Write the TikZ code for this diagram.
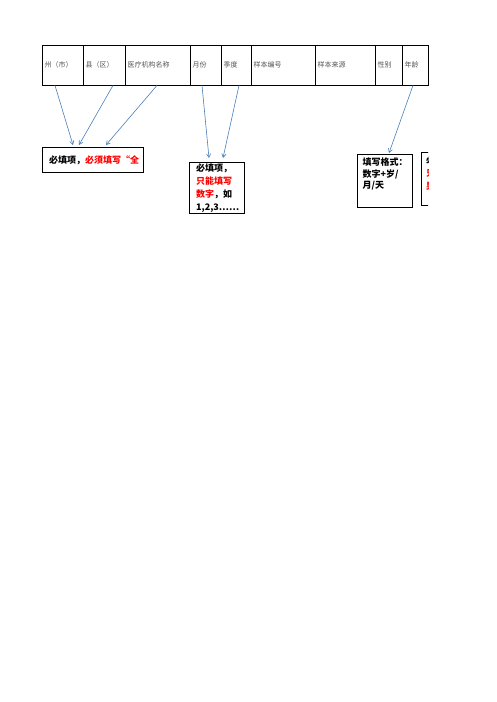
\documentclass[tikz,border=0pt]{standalone}
\usepackage{fontspec}
\newfontfamily\cjk{Noto Sans CJK SC}
\usetikzlibrary{arrows, positioning}
\definecolor{pointerblue}{RGB}{74,126,187}
\definecolor{headgray}{RGB}{85,85,85}

\begin{document}
\begin{tikzpicture}[
        x=1pt, y=-1pt,
        >=angle 60,
        cell/.style={rectangle, draw, line width=0.8pt, minimum height=40pt, inner sep=0pt, anchor=west},
        celltext/.style={anchor=west, inner sep=0pt, font=\cjk\fontsize{7}{8}\selectfont, text=headgray},
        tipbox/.style={rectangle, draw, line width=0.9pt, inner sep=0pt, anchor=north west},
        tiptext/.style={anchor=north west, inner sep=0pt, align=left, font=\cjk\bfseries\fontsize{9}{12.7}\selectfont},
        pointer/.style={->, draw=pointerblue, line width=0.6pt}
    ]
        \useasboundingbox (0,0) rectangle (496,702);

        % Kopfzeile der Tabelle
        \foreach \x/\w/\n/\t in {42/41/zhou/州（市）, 83/42/xian/县（区）, 125/65/jigou/医疗机构名称,
                190/31/yuefen/月份, 221/30/jidu/季度, 251/64/bianhao/样本编号,
                315/60/laiyuan/样本来源, 375/27/xingbie/性别, 402/26/nianling/年龄}
        {
            \node[cell, minimum width=\w pt] (\n) at (\x,65) {};
            \node[celltext] (\n-t) at ([xshift=2.5pt]\n.west) {\t};
        }

        % Hinweiskästen
        \node[tipbox, minimum width=101pt, minimum height=25pt] (bitian) at (42,147) {};
        \node[tiptext, anchor=west] (bitian-t) at ([xshift=7pt]bitian.west) {必填项，\textcolor{red}{必须填写“全}};

        \node[tipbox, minimum width=55pt, minimum height=51pt] (shuzi) at (189,162) {};
        \node[tiptext] (shuzi-t) at ([xshift=7pt, yshift=-2pt]shuzi.north west)
            {必填项，\\\textcolor{red}{只能填写}\\\textcolor{red}{数字}，如\\1,2,3……};

        \node[tipbox, minimum width=55pt, minimum height=53pt] (geshi) at (357,154) {};
        \node[tiptext, font=\cjk\bfseries\fontsize{9}{11.5}\selectfont] (geshi-t) at ([xshift=5.5pt, yshift=-4pt]geshi.north west)
            {填写格式：\\数字+岁/\\月/天};

        \begin{scope}
            \clip (0,0) rectangle (428,702);
            \node[tipbox, minimum width=55pt, minimum height=53pt] (rest) at (421,152) {};
            \node[tiptext] (rest-t) at ([xshift=5pt, yshift=-4pt]rest.north west)
                {必填项，\\\textcolor{red}{只能填写}\\\textcolor{red}{男或女}};
        \end{scope}

        % Pfeile
        \draw[pointer] ([xshift=13pt]zhou.south west) -- ([xshift=31pt, yshift=2pt]bitian.north west);
        \draw[pointer] ([xshift=30pt]xian.south west) -- ([xshift=37pt, yshift=2pt]bitian.north west);
        \draw[pointer] ([xshift=32pt]jigou.south west) -- ([xshift=64pt, yshift=2pt]bitian.north west);
        \draw[pointer] ([xshift=12pt]yuefen.south west) -- ([xshift=20pt, yshift=4pt]shuzi.north west);
        \draw[pointer] ([xshift=18pt]jidu.south west) -- ([xshift=34pt, yshift=4pt]shuzi.north west);
        \draw[pointer] ([xshift=11pt]nianling.south west) -- ([xshift=32pt, yshift=1pt]geshi.north west);
    \end{tikzpicture}
\end{document}
